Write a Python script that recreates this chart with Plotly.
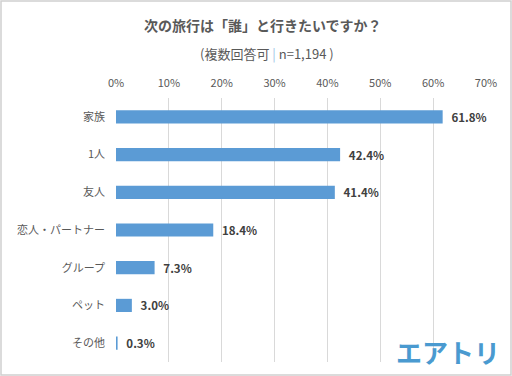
import plotly.graph_objects as go

categories = ["家族", "1人", "友人", "恋人・パートナー", "グループ", "ペット", "その他"]
values = [61.8, 42.4, 41.4, 18.4, 7.3, 3.0, 0.3]
tick_vals = [0, 10, 20, 30, 40, 50, 60, 70]
tick_text = ["0%", "10%", "20%", "30%", "40%", "50%", "60%", "70%"]

FONT = "Noto Sans CJK JP"
W, H = 512, 376
L, R, T, B = 116, 26, 98, 14
pw, ph = W - L - R, H - T - B

fig = go.Figure(go.Bar(
    x=values, y=categories, orientation="h",
    marker=dict(color="#5b9bd5", line=dict(width=0)),
    width=0.35,
    text=["\u2002" + f"{v:.1f}%" for v in values],
    textposition="outside",
    constraintext="none",
    textfont=dict(family=FONT, size=11.5, color="#404040", weight="bold"),
    cliponaxis=False,
    hoverinfo="skip",
))

fig.update_layout(
    width=W, height=H,
    margin=dict(l=L, r=R, t=T, b=B, autoexpand=False),
    paper_bgcolor="white", plot_bgcolor="white",
    showlegend=False,
    font=dict(family=FONT, color="#595959"),
    xaxis=dict(side="top", range=[0, 70], tickvals=tick_vals, ticktext=tick_text,
               showgrid=True, gridcolor="#d9d9d9", gridwidth=1, zeroline=False,
               showline=False, ticks="", tickfont=dict(size=11, color="#595959"),
               ticklabelstandoff=8, fixedrange=True, automargin=False),
    yaxis=dict(autorange="reversed", showgrid=False, showline=False, ticks="",
               tickfont=dict(size=11, color="#595959"), ticklabelstandoff=10,
               fixedrange=True, automargin=False),
    annotations=[
        dict(text="<b>次の旅行は「誰」と行きたいですか？</b>", xref="paper", yref="paper",
             x=(263 - L) / pw, y=(H - 25 - B) / ph, xanchor="center", yanchor="middle",
             showarrow=False, font=dict(size=14, color="#595959", family=FONT)),
        dict(text="(複数回答可\u00a0<span style='color:#9dc3e6'>|</span>\u00a0n=1,194\u00a0)",
             xref="paper", yref="paper",
             x=(267 - L) / pw, y=(H - 53 - B) / ph, xanchor="center", yanchor="middle",
             showarrow=False, font=dict(size=13, color="#595959", family=FONT)),
        dict(text="<b>エアトリ</b>", xref="paper", yref="paper",
             x=(448 - L) / pw, y=(H - 351 - B) / ph, xanchor="center", yanchor="middle",
             showarrow=False, font=dict(size=26, color="#4a9ad0", family=FONT)),
    ],
    shapes=[dict(type="rect", xref="paper", yref="paper",
                 x0=(1 - L) / pw, x1=(511 - L) / pw,
                 y0=(H - 375 - B) / ph, y1=(H - 1 - B) / ph,
                 line=dict(color="#d0d0d0", width=1.5), fillcolor="rgba(0,0,0,0)",
                 layer="above")],
)

fig.write_html("out.html", config={"displayModeBar": False, "staticPlot": True},
               post_script="document.body.style.margin='0';document.body.style.overflow='hidden';")
